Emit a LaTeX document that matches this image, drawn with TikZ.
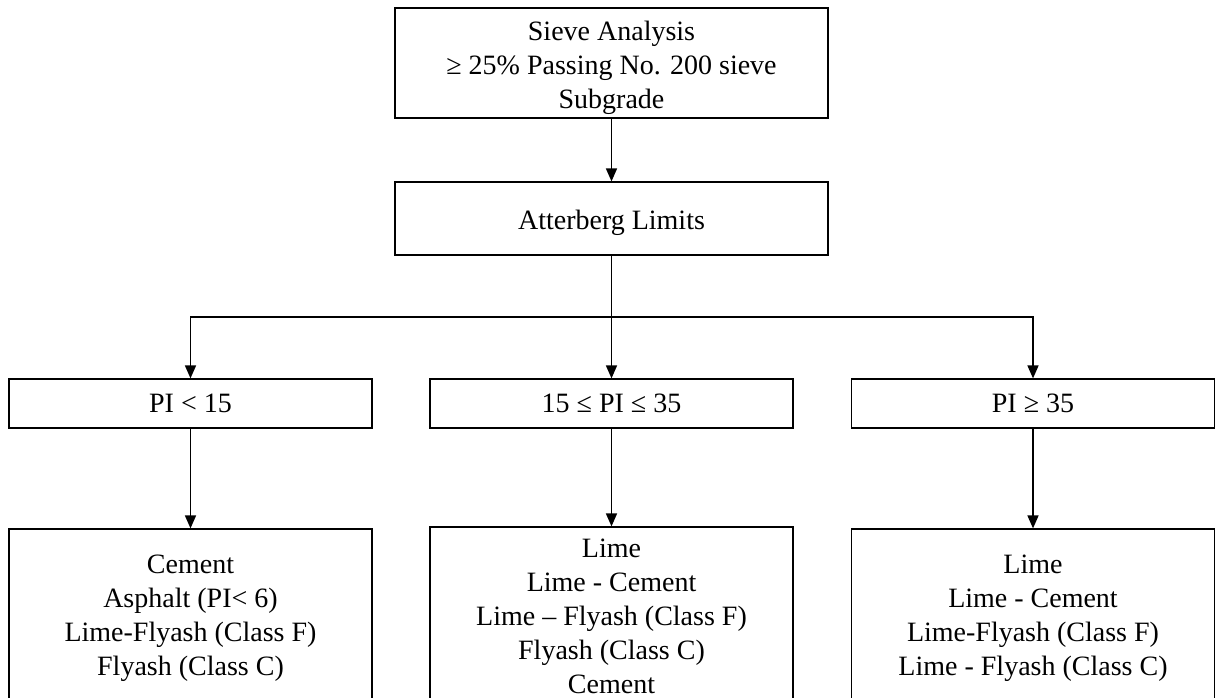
\documentclass[tikz,border=0pt]{standalone}
\usepackage{fontspec}
\setmainfont{Liberation Serif}
\usetikzlibrary{arrows.meta}
\newcommand{\topstrut}{\rule{0pt}{29pt}}
\begin{document}
\begin{tikzpicture}[x=1pt,y=1pt,
  box/.style={draw, line width=1.2pt, inner sep=0pt, align=center,
    font=\fontsize{28}{34}\selectfont, minimum height=#1},
  wide/.style={minimum width=433pt},
  narrow/.style={minimum width=363pt},
  arr/.style={line width=1.6pt, -{Triangle[width=11pt,length=13pt]}}]
\useasboundingbox (0,0) rectangle (1215,698);
\node[box=110pt, wide] (top) at (611.5,635) {\topstrut Sieve Analysis\\ ≥ 25\% Passing No. 200 sieve\\ Subgrade};
\node[box=73pt, wide] (att) at (611.5,479.5) {\topstrut Atterberg Limits};
\node[box=49pt, narrow] (pi1) at (190.5,294.5) {PI < 15};
\node[box=49pt, narrow] (pi2) at (611.5,294.5) {15 ≤ PI ≤ 35};
\node[box=49pt, narrow] (pi3) at (1033,294.5) {PI ≥ 35};
\node[box=178pt, narrow] (b1) at (190.5,80) {Cement\\ Asphalt (PI< 6)\\ Lime-Flyash (Class F)\\ Flyash (Class C)};
\node[box=178pt, narrow] (b2) at (611.5,82) {Lime\\ Lime - Cement\\ Lime – Flyash (Class F)\\ Flyash (Class C)\\ Cement};
\node[box=178pt, narrow] (b3) at (1033,80) {Lime\\ Lime - Cement\\ Lime-Flyash (Class F)\\ Lime - Flyash (Class C)};
\coordinate (split) at (611.5,381);
\draw[arr] (top) -- (att);
\draw[arr] (att) -- (pi2);
\draw[arr] (split) -| (pi1);
\draw[arr] (split) -| (pi3);
\draw[arr] (pi1) -- (b1);
\draw[arr] (pi2) -- (b2);
\draw[arr] (pi3) -- (b3);
\end{tikzpicture}
\end{document}
